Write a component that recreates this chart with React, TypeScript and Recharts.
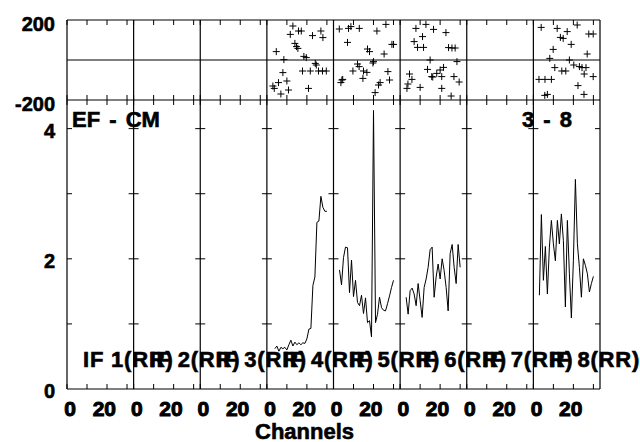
import React from 'react';
import { ComposedChart, Line, Scatter, XAxis, YAxis, ReferenceLine } from 'recharts';

// ---------- data ----------
const ifNumbers = [1, 2, 3, 4, 5, 6, 7, 8];
const polarization = 'RR';
const baselineTitle = 'EF - CM';
const sourceTitle = '3 - 8';
const xAxisTitle = 'Channels';

const channelTicks = [0, 10, 20, 30];
const channelTickLabels = ['0', '', '20', ''];
const phaseTicks = [-200, 200];
const phaseTickLabels = ['-200', '200'];
const ampTicks = [0, 1, 2, 3, 4];
const ampTickLabels = ['0', '', '2', '', '4'];

// amplitude (one value per channel, starting at the given channel)
const if4AmpFirstChannel = 4;
const if4Amp = [0.62, 0.66, 0.58, 0.64, 0.62, 0.64, 0.6, 0.68, 0.75, 0.66, 0.72, 0.68, 0.71, 0.68, 0.71, 0.7, 0.77, 0.92, 0.93, 1.59, 1.72, 2.56, 2.58, 2.96, 2.79, 2.73, 2.73];
const if5AmpFirstChannel = 3;
const if5Amp = [1.83, 1.6, 2.02, 2.18, 2.17, 1.48, 1.98, 1.42, 1.67, 1.33, 1.28, 1.44, 1.16, 1.4, 1.02, 1.05, 0.8, 4.28, 1.02, 1.15, 1.41, 1.25, 1.21, 1.2, 1.31, 1.43, 1.56, 1.67];
const if6AmpFirstChannel = 3;
const if6Amp = [1.41, 1.15, 1.51, 1.55, 1.46, 1.28, 1.62, 1.36, 1.1, 1.56, 1.69, 1.87, 2.14, 2.18, 1.41, 1.72, 1.92, 1.69, 2.0, 1.82, 1.56, 1.2, 2.08, 2.22, 1.87, 1.62, 2.22, 1.87];
const if8AmpFirstChannel = 3;
const if8Amp = [1.44, 2.68, 1.67, 2.19, 1.46, 2.18, 2.59, 2.23, 1.97, 2.59, 2.23, 2.69, 2.28, 1.26, 2.59, 1.77, 1.09, 1.97, 3.22, 2.23, 1.87, 1.41, 2.0, 1.9, 1.77, 1.49, 1.62, 1.73];

// phase (channel, degrees)
const if4PhaseChannels = [3, 3.7, 4.7, 5.8, 7, 8, 8.5, 10, 10.8, 11.7, 13, 14, 14.8, 15.5, 15.8, 17.2, 17.8, 18.5, 19.7, 20.8, 21.7, 22.8, 24.2, 24.7, 25.8, 27, 27.8, 28, 29.7];
const if4Phase = [-130, -142, 42, -113, -170, -63, 2, -105, -150, 128, 170, 83, 67, 58, 145, 145, -55, 18, 12, -142, -55, 122, -17, -25, -55, 145, -55, 112, -55];
const if5PhaseChannels = [2.9, 3.7, 4.2, 4.6, 7, 7.5, 8.7, 9.7, 12, 12.8, 12.9, 14.7, 15, 16.7, 17, 18, 19.7, 20, 20.8, 21.7, 22.5, 23.3, 25.3, 26.2, 27.2, 28, 29.2, 30];
const if5Phase = [155, -113, -100, -97, 88, 158, 167, -55, -20, -33, 158, -92, -55, -62, 55, 42, -15, -8, -163, 145, -125, -113, 30, 178, -58, -100, 78, 78];
const if6PhaseChannels = [3.4, 3.9, 4.7, 5.9, 7, 7.9, 8.7, 10, 11.2, 11.7, 12.9, 13.7, 15, 15.8, 16.3, 16.7, 18.3, 20, 20.8, 20.8, 21.7, 22.9, 24.2, 25.5, 25.9, 26.9, 27.5, 28.4, 29.5];
const if6Phase = [-142, -120, -70, -97, 92, 158, 63, -137, 117, 63, 178, -47, 0, -83, -85, 153, -67, -50, -83, -142, -37, 137, 62, -180, 60, -83, 60, -8, -110];
const if8PhaseChannels = [2.8, 3.9, 5.7, 5.8, 7, 8.2, 9, 9.9, 10.7, 11.9, 13.5, 14.2, 14.9, 16.2, 16.9, 18, 18.9, 20.2, 21.9, 22.3, 23, 24.3, 25.3, 25.4, 26.3, 26.9, 27.7, 29.9, 29.9];
const if8Phase = [-97, 163, -177, -97, -172, 8, -97, 53, -38, 158, 113, -55, 108, -55, 142, 0, 78, -25, 175, -128, -33, -38, -172, -70, -38, 30, 130, 130, -83];

const ampByIf: Record<number, { first: number; values: number[] }> = {
  4: { first: if4AmpFirstChannel, values: if4Amp },
  5: { first: if5AmpFirstChannel, values: if5Amp },
  6: { first: if6AmpFirstChannel, values: if6Amp },
  8: { first: if8AmpFirstChannel, values: if8Amp },
};
const phaseByIf: Record<number, { ch: number[]; deg: number[] }> = {
  4: { ch: if4PhaseChannels, deg: if4Phase },
  5: { ch: if5PhaseChannels, deg: if5Phase },
  6: { ch: if6PhaseChannels, deg: if6Phase },
  8: { ch: if8PhaseChannels, deg: if8Phase },
};

// ---------- layout ----------
const WIDTH = 640;
const HEIGHT = 442;
const LEFT = 67;
const RIGHT_MARGIN = 40;
const PLOT_RIGHT = WIDTH - RIGHT_MARGIN;
const PHASE_TOP = 20;
const PHASE_BOTTOM = 100;
const AMP_BOTTOM = 389;
const PANEL_SPAN = 33.3; // channels per panel
const X_MAX = ifNumbers.length * PANEL_SPAN;
const AMP_MAX = 4.44;
const PANEL_PX = (PLOT_RIGHT - LEFT) / ifNumbers.length;
const FONT = "'Liberation Sans', Arial, Helvetica, sans-serif";
const INK = '#000';
const AX_H = 1; // minimal axis band so that the axis is rendered
const TEXT_STROKE = 0.6;

const xTicks = ifNumbers.flatMap((_, i) => channelTicks.map((c) => i * PANEL_SPAN + c));
const boundaries = [...ifNumbers.map((_, i) => i * PANEL_SPAN), X_MAX];
const boundaryPx = [...ifNumbers.map((_, i) => LEFT + i * PANEL_PX), PLOT_RIGHT];

const ampSeries = ifNumbers.map((n, i) => {
  const a = ampByIf[n];
  return a ? a.values.map((v, j) => ({ x: i * PANEL_SPAN + a.first + j, y: v })) : [];
});
const phaseSeries = ifNumbers.map((n, i) => {
  const p = phaseByIf[n];
  return p ? p.ch.map((c, j) => ({ x: i * PANEL_SPAN + c, y: p.deg[j] })) : [];
});

const textStyle = {
  fontFamily: FONT,
  fontWeight: 'bold' as const,
  fill: INK,
  stroke: INK,
  strokeWidth: TEXT_STROKE,
};

// ---------- custom ticks ----------
const TopTick = (props: any) => {
  const { x, y } = props;
  return <line x1={x} x2={x} y1={y} y2={y + 5} stroke={INK} strokeWidth={1} />;
};
const MidTick = (props: any) => {
  const { x, y } = props;
  return <line x1={x} x2={x} y1={y - 5} y2={y + 5} stroke={INK} strokeWidth={1} />;
};
const BottomTick = (props: any) => {
  const { x, y, index } = props;
  const k = index % channelTicks.length;
  const label = channelTickLabels[k];
  return (
    <g>
      <line x1={x} x2={x} y1={y - 5} y2={y} stroke={INK} strokeWidth={1} />
      {label ? (
        <text x={x + 9} y={y + 26.5} textAnchor="end" fontSize={21} {...textStyle} strokeWidth={1}>
          {label}
        </text>
      ) : null}
    </g>
  );
};
const PhaseYTick = (props: any) => {
  const { x, y, index } = props;
  return (
    <text x={x - 12} y={y + 10.5} textAnchor="end" fontSize={20} {...textStyle}>
      {phaseTickLabels[index]}
    </text>
  );
};
const AmpYTick = (props: any) => {
  const { x, y, index } = props;
  const label = ampTickLabels[index];
  return (
    <g>
      {index > 0
        ? boundaryPx.map((bx, k) => (
            <line key={k} x1={Math.max(LEFT, bx - 5)} x2={Math.min(PLOT_RIGHT, bx + 5)} y1={y} y2={y} stroke={INK} strokeWidth={1} />
          ))
        : null}
      {label ? (
        <text x={x - 12} y={y + 9} textAnchor="end" fontSize={20} {...textStyle}>
          {label}
        </text>
      ) : null}
    </g>
  );
};

const Plus = (props: any) => {
  const { cx, cy } = props;
  if (cx == null || cy == null) return <g />;
  return <path d={`M${cx - 3.5},${cy}h7M${cx},${cy - 3.5}v7`} stroke={INK} strokeWidth={1} fill="none" />;
};

const abs: React.CSSProperties = { position: 'absolute', left: 0, top: 0 };

export default function App() {
  return (
    <div style={{ position: 'absolute', left: 0, top: 0, width: WIDTH, height: HEIGHT, background: '#fff' }}>
      {/* phase strip */}
      <div style={abs}>
        <ComposedChart width={WIDTH} height={HEIGHT} margin={{ top: PHASE_TOP - AX_H, right: RIGHT_MARGIN, bottom: HEIGHT - PHASE_BOTTOM - AX_H, left: 0 }}>
          <XAxis dataKey="x" type="number" domain={[0, X_MAX]} allowDataOverflow ticks={xTicks} interval={0} height={AX_H} tickSize={0} tickMargin={0} axisLine={false} tickLine={false} tick={<MidTick />} />
          <XAxis xAxisId="top" orientation="top" dataKey="x" type="number" domain={[0, X_MAX]} allowDataOverflow ticks={xTicks} interval={0} height={AX_H} tickSize={0} tickMargin={0} axisLine={false} tickLine={false} tick={<TopTick />} />
          <YAxis dataKey="y" type="number" domain={[-200, 200]} allowDataOverflow ticks={phaseTicks} interval={0} width={LEFT} tickSize={0} tickMargin={0} axisLine={false} tickLine={false} tick={<PhaseYTick />} />
          {boundaries.map((b) => (
            <ReferenceLine key={'pb' + b} x={b} stroke={INK} strokeWidth={1.2} ifOverflow="visible" />
          ))}
          <ReferenceLine y={200} stroke={INK} strokeWidth={1.2} ifOverflow="visible" />
          <ReferenceLine y={-200} stroke={INK} strokeWidth={1.2} ifOverflow="visible" />
          <ReferenceLine y={0} stroke={INK} strokeWidth={1} ifOverflow="visible" />
          {phaseSeries.map((d, i) =>
            d.length ? <Scatter key={'ph' + i} data={d} dataKey="y" shape={<Plus />} isAnimationActive={false} /> : null
          )}
        </ComposedChart>
      </div>
      {/* amplitude panel */}
      <div style={abs}>
        <ComposedChart width={WIDTH} height={HEIGHT} margin={{ top: PHASE_BOTTOM, right: RIGHT_MARGIN, bottom: HEIGHT - AMP_BOTTOM - AX_H, left: 0 }}>
          <XAxis dataKey="x" type="number" domain={[0, X_MAX]} allowDataOverflow ticks={xTicks} interval={0} height={AX_H} tickSize={0} tickMargin={0} axisLine={false} tickLine={false} tick={<BottomTick />} />
          <YAxis dataKey="y" type="number" domain={[0, AMP_MAX]} allowDataOverflow ticks={ampTicks} interval={0} width={LEFT} tickSize={0} tickMargin={0} axisLine={false} tickLine={false} tick={<AmpYTick />} />
          {boundaries.map((b) => (
            <ReferenceLine key={'ab' + b} x={b} stroke={INK} strokeWidth={1.2} ifOverflow="visible" />
          ))}
          <ReferenceLine y={0} stroke={INK} strokeWidth={1.2} ifOverflow="visible" />
          {ampSeries.map((d, i) =>
            d.length ? (
              <Line key={'amp' + i} data={d} dataKey="y" type="linear" stroke={INK} strokeWidth={1} dot={false} activeDot={false} isAnimationActive={false} />
            ) : null
          )}
        </ComposedChart>
      </div>
      {/* titles */}
      <svg width={WIDTH} height={HEIGHT} style={{ ...abs, pointerEvents: 'none' }}>
        <g {...textStyle}>
          <text x={72} y={127} fontSize={22} style={{ wordSpacing: 3 }}>{baselineTitle}</text>
          <text x={572} y={127} fontSize={22} textAnchor="end" style={{ wordSpacing: 3 }}>{sourceTitle}</text>
          {ifNumbers.map((n, i) => (
            <text key={'if' + n} x={LEFT + i * PANEL_PX + 16} y={367} fontSize={22} style={{ letterSpacing: 0.8 }}>{`IF ${n}(${polarization})`}</text>
          ))}
          <text x={255} y={439} fontSize={22}>{xAxisTitle}</text>
        </g>
      </svg>
    </div>
  );
}
